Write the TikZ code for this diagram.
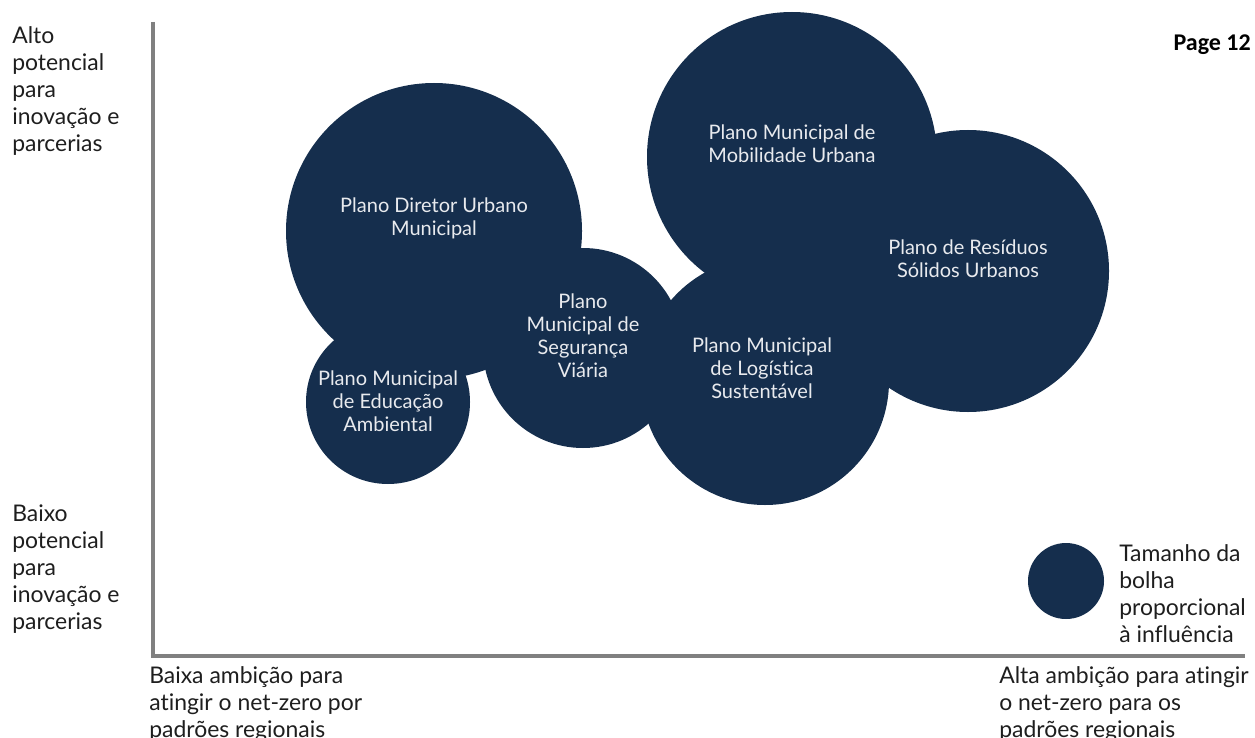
\documentclass[tikz,border=0pt]{standalone}
\usepackage{fontspec}
\setmainfont{Lato}[Ligatures={NoCommon}]
\newfontfamily\pagefont{Carlito}
\definecolor{bubble}{RGB}{21,46,77}
\definecolor{bubbletext}{RGB}{232,234,238}
\definecolor{axisgray}{RGB}{128,128,128}
\definecolor{labeltext}{RGB}{30,30,30}
\begin{document}
\begin{tikzpicture}[x=0.75pt,y=-0.75pt,
  bubblefill/.style={fill=bubble},
  bubblelabel/.style={text=bubbletext, align=center, inner sep=0pt,
    font=\fontsize{15}{17.25}\selectfont},
  sidelabel/.style={text=labeltext, align=left, inner sep=0pt, anchor=north west,
    font=\fontsize{17.2}{20.25}\selectfont},
  axisline/.style={draw=axisgray, line width=3pt}]
\useasboundingbox (0,0) rectangle (1255,738);
% bubbles
\fill[bubblefill] (434,231) circle (148);
\fill[bubblefill] (388,402) circle (82);
\fill[bubblefill] (583,348) circle (100);
\fill[bubblefill] (792,157) circle (145);
\fill[bubblefill] (765,381) circle (124);
\fill[bubblefill] (968,271) circle (141);
\fill[bubblefill] (1066,581) circle (38);
% bubble labels
\node[bubblelabel] (diretor) at (434,218) {Plano Diretor Urbano\\Municipal};
\node[bubblelabel] (educacao) at (388,401) {Plano Municipal\\de Educação\\Ambiental};
\node[bubblelabel] (seguranca) at (583,336) {Plano\\Municipal de\\Segurança\\Viária};
\node[bubblelabel] (mobilidade) at (792,144) {Plano Municipal de\\Mobilidade Urbana};
\node[bubblelabel] (residuos) at (968,259) {Plano de Resíduos\\Sólidos Urbanos};
\node[bubblelabel] (logistica) at (762,368) {Plano Municipal\\de Logística\\Sustentável};
% axes
\coordinate (top) at (153,22);
\coordinate (origin) at (153,656);
\coordinate (right) at (1245,656);
\draw[axisline] (top) -- (origin) -- (right);
% axis labels
\node[sidelabel] (alto) at (12,26) {Alto\\potencial\\para\\inovação e\\parcerias};
\node[sidelabel] (baixo) at (12,504) {Baixo\\potencial\\para\\inovação e\\parcerias};
\node[sidelabel] (baixa) at (149,666) {Baixa ambição para\\atingir o net-zero por\\padrões regionais};
\node[sidelabel] (alta) at (999,666) {Alta ambição para atingir\\o net-zero para os\\padrões regionais};
\node[sidelabel] (legend) at (1119,544) {Tamanho da\\bolha\\proporcional\\à influência};
\node[anchor=base east, inner sep=0pt, font=\pagefont\bfseries\fontsize{18}{20}\selectfont, text=black] (page) at (1251,51) {Page 12};
\end{tikzpicture}
\end{document}
